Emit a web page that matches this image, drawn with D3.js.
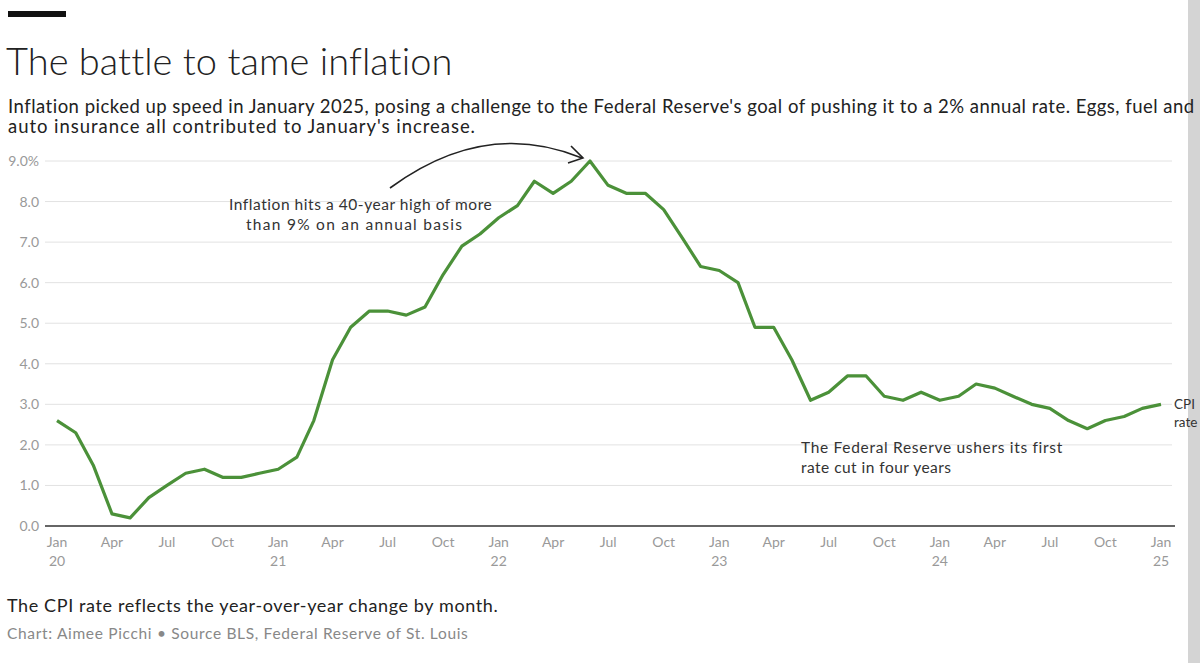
<!DOCTYPE html>
<html><head><meta charset="utf-8">
<script src="https://cdn.jsdelivr.net/npm/d3@7"></script>
<style>
html,body{margin:0;padding:0;background:#fff;overflow:hidden}
svg{display:block}
</style></head><body>
<svg id="c" width="1200" height="663"></svg>
<script>
const startYear = 2020, startMonth = 0;
const cpiValues = [
  2.6, 2.3, 1.5, 0.3, 0.2, 0.7, 1.0, 1.3, 1.4, 1.2, 1.2, 1.3,
  1.4, 1.7, 2.6, 4.1, 4.9, 5.3, 5.3, 5.2, 5.4, 6.2, 6.9, 7.2,
  7.6, 7.9, 8.5, 8.2, 8.5, 9.0, 8.4, 8.2, 8.2, 7.8, 7.1, 6.4,
  6.3, 6.0, 4.9, 4.9, 4.1, 3.1, 3.3, 3.7, 3.7, 3.2, 3.1, 3.3,
  3.1, 3.2, 3.5, 3.4, 3.2, 3.0, 2.9, 2.6, 2.4, 2.6, 2.7, 2.9,
  3.0
];
const yTicks = [0, 1, 2, 3, 4, 5, 6, 7, 8, 9];
const monthNames = ["Jan","Apr","Jul","Oct"];
const seriesLabel = ["CPI","rate"];
const title = "The battle to tame inflation";
const subtitleLines = ["Inflation picked up speed in January 2025, posing a challenge to the Federal Reserve's goal of pushing it to a 2% annual rate. Eggs, fuel and",
  "auto insurance all contributed to January's increase."];
const noteText = "The CPI rate reflects the year-over-year change by month.";
const sourceText = "Chart: Aimee Picchi \u2022 Source BLS, Federal Reserve of St. Louis";
const annoPeak = ["Inflation hits a 40-year high of more","than 9% on an annual basis"];
const annoFed = ["The Federal Reserve ushers its first","rate cut in four years"];

const data = cpiValues.map((v,i)=>({date:new Date(startYear, startMonth+i, 1), v}));
const svg = d3.select("#c");
const FONT = "Lato, 'Open Sans', sans-serif";

// fit a text element's width to a target by letter-spacing
function fitWidth(sel, target){
  sel.each(function(){
    const n = this.textContent.length;
    const w = this.getComputedTextLength();
    const ls = (target - w)/Math.max(1,n-1);
    d3.select(this).attr("letter-spacing", ls.toFixed(2));
  });
}

svg.append("rect").attr("x",1188).attr("y",0).attr("width",12).attr("height",663).attr("fill","#d4d4d4");

svg.append("rect").attr("x",8).attr("y",11).attr("width",58).attr("height",6).attr("fill","#111");
svg.append("text").attr("x",6).attr("y",75).text(title)
  .attr("font-family",FONT).attr("font-weight",300).attr("font-size",38).attr("fill","#222")
  .call(fitWidth, 446);
const sub = svg.selectAll("text.sub").data(subtitleLines).join("text").attr("class","sub")
  .attr("x",8).attr("y",(d,i)=>113+i*20).text(d=>d)
  .attr("font-family",FONT).attr("font-size",18.5).attr("fill","#222");
fitWidth(sub.filter((d,i)=>i===0), 1187);
fitWidth(sub.filter((d,i)=>i===1), 467);

const x = d3.scaleTime().domain([data[0].date, data[data.length-1].date]).range([57,1161]);
const y = d3.scaleLinear().domain([0,9]).range([526,161]);

svg.append("g").selectAll("line").data(yTicks.filter(d=>d>0)).join("line")
  .attr("x1",45).attr("x2",1172).attr("y1",d=>y(d)).attr("y2",d=>y(d))
  .attr("stroke","#e2e2e2").attr("stroke-width",1);
svg.append("g").selectAll("text").data(yTicks).join("text")
  .attr("x",39).attr("y",d=>y(d)+5).attr("text-anchor","end")
  .text(d=>d===9?"9.0%":d.toFixed(1))
  .attr("font-family",FONT).attr("font-size",14).attr("fill","#999");
svg.append("line").attr("x1",45).attr("x2",1175).attr("y1",y(0)).attr("y2",y(0))
  .attr("stroke","#333").attr("stroke-width",1.5);

const xticks = d3.timeMonth.every(3).range(data[0].date, d3.timeMonth.offset(data[data.length-1].date,1));
const xl = svg.append("g").selectAll("g").data(xticks).join("g")
  .attr("transform",d=>`translate(${x(d)},0)`);
xl.append("text").attr("y",547).attr("text-anchor","middle")
  .text(d=>monthNames[d.getMonth()/3])
  .attr("font-family",FONT).attr("font-size",14).attr("fill","#999");
xl.filter(d=>d.getMonth()===0).append("text").attr("y",566).attr("text-anchor","middle")
  .text(d=>String(d.getFullYear()).slice(2))
  .attr("font-family",FONT).attr("font-size",14).attr("fill","#999");

svg.append("path").datum(data)
  .attr("d",d3.line().x(d=>x(d.date)).y(d=>y(d.v)))
  .attr("fill","none").attr("stroke","#4b9139").attr("stroke-width",3.2)
  .attr("stroke-linejoin","round");

svg.selectAll("text.sl").data(seriesLabel).join("text").attr("class","sl")
  .attr("x",1174).attr("y",(d,i)=>409+i*18).text(d=>d)
  .attr("font-family",FONT).attr("font-size",13.5).attr("fill","#333");

const ap = svg.selectAll("text.ap").data(annoPeak).join("text").attr("class","ap")
  .attr("x",229).attr("y",(d,i)=>210+i*20).text(d=>d)
  .attr("font-family",FONT).attr("font-size",15.5).attr("fill","#333");
fitWidth(ap.filter((d,i)=>i===0), 263);
fitWidth(ap.filter((d,i)=>i===1), 216);
ap.filter((d,i)=>i===1).attr("x",246);
const af = svg.selectAll("text.af").data(annoFed).join("text").attr("class","af")
  .attr("x",801).attr("y",(d,i)=>453+i*20).text(d=>d)
  .attr("font-family",FONT).attr("font-size",15.5).attr("fill","#333");
fitWidth(af.filter((d,i)=>i===0), 261);
fitWidth(af.filter((d,i)=>i===1), 150);

svg.append("path").attr("d","M390,188 Q485,118 582,158")
  .attr("fill","none").attr("stroke","#222").attr("stroke-width",1.6);
svg.append("path").attr("d","M571,146 L583,158 L568,163")
  .attr("fill","none").attr("stroke","#222").attr("stroke-width",1.6);

svg.append("text").attr("x",7).attr("y",612).text(noteText)
  .attr("font-family",FONT).attr("font-size",18).attr("fill","#222")
  .call(fitWidth, 491);
svg.append("text").attr("x",7).attr("y",639).text(sourceText)
  .attr("font-family",FONT).attr("font-size",15.5).attr("fill","#888")
  .call(fitWidth, 461);
</script></body></html>
